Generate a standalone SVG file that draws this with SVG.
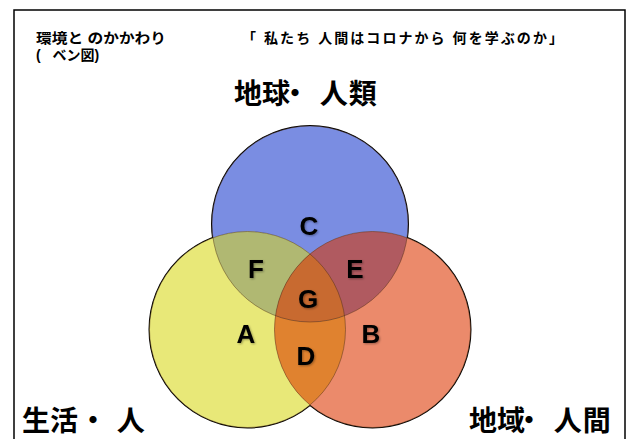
<svg xmlns="http://www.w3.org/2000/svg" width="630" height="439" viewBox="0 0 630 439">
<style>
.jp{font-family:"Liberation Sans","Noto Sans CJK JP",sans-serif;font-weight:bold;fill:#000}
.big{font-size:28px}
.lt{font-family:"Liberation Sans",Arial,sans-serif;font-weight:bold;font-size:26px;fill:#000;text-anchor:middle}
.edge{fill:none;stroke:#000;stroke-width:2}
.inner{fill:none;stroke:#4a2a10;stroke-opacity:0.45;stroke-width:1}
</style>
<defs>
<clipPath id="cY"><circle cx="247.5" cy="329.5" r="98"/></clipPath>
<clipPath id="cO"><circle cx="372.5" cy="329.5" r="98"/></clipPath>
<filter id="sh" x="-20%" y="-20%" width="150%" height="150%"><feDropShadow dx="1" dy="1" stdDeviation="1" flood-color="#000" flood-opacity="0.35"/></filter>
</defs>
<rect x="0" y="0" width="630" height="439" fill="#fff"/>
<rect x="14" y="10" width="611" height="440" fill="none" stroke="#000" stroke-width="1.5"/>
<g id="titles">
<text class="jp" x="36" y="43" font-size="14" textLength="130" lengthAdjust="spacingAndGlyphs">環境と のかかわり</text>
<text class="jp" x="36" y="60" font-size="14" dx="0 8">( ベン図)</text>
<text class="jp" x="242" y="43" font-size="14" textLength="321" lengthAdjust="spacing">「 私たち 人間はコロナから 何を学ぶのか」</text>
</g>
<g id="venn">
<g id="outlines"><circle class="edge" cx="310" cy="224" r="98"/><circle class="edge" cx="247.5" cy="329.5" r="98"/><circle class="edge" cx="372.5" cy="329.5" r="98"/></g>
<g id="set-blue"><circle cx="310" cy="224" r="98" fill="#7A8DE2"/></g>
<g id="set-yellow"><circle cx="247.5" cy="329.5" r="98" fill="#E8E878"/></g>
<g id="set-orange"><circle cx="372.5" cy="329.5" r="98" fill="#EB8A6B"/></g>
<g id="region-D"><circle cx="247.5" cy="329.5" r="98" fill="#E0822F" clip-path="url(#cO)"/></g>
<g id="region-F"><circle cx="310" cy="224" r="98" fill="#B0B872" clip-path="url(#cY)"/></g>
<g id="region-E"><circle cx="310" cy="224" r="98" fill="#B05A60" clip-path="url(#cO)"/></g>
<g id="region-G" clip-path="url(#cY)"><circle cx="310" cy="224" r="98" fill="#C86A30" clip-path="url(#cO)"/></g>
<g id="inner-lines"><circle class="inner" cx="310" cy="224" r="98"/><circle class="inner" cx="247.5" cy="329.5" r="98"/><circle class="inner" cx="372.5" cy="329.5" r="98"/></g>
</g>
<g id="letters" filter="url(#sh)">
<text class="lt" x="309" y="235">C</text>
<text class="lt" x="256" y="278">F</text>
<text class="lt" x="355" y="278">E</text>
<text class="lt" x="308" y="308">G</text>
<text class="lt" x="246" y="343">A</text>
<text class="lt" x="371" y="343">B</text>
<text class="lt" x="306" y="365">D</text>
</g>
<g id="labels">
<text class="jp big" x="234" y="104" dx="0 0 -9 0 3 1">地球・ 人類</text>
<text class="jp big" x="22" y="431" dx="0 0 1 0 2">生活・ 人</text>
<text class="jp big" x="469" y="431" dx="0 0 -10 0 3 1">地域・ 人間</text>
</g>
</svg>
